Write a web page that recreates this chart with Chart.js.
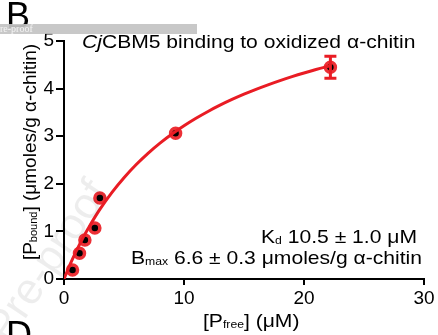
<!DOCTYPE html>
<html>
<head>
<meta charset="utf-8">
<script src="https://cdn.jsdelivr.net/npm/chart.js@4.4.1/dist/chart.umd.min.js"></script>
<style>
  html, body { margin: 0; padding: 0; background: #fff; }
  #wrap { position: relative; width: 438px; height: 335px; }
</style>
</head>
<body>
<div id="wrap"><canvas id="chart" width="438" height="335"></canvas></div>
<script>
// Binding isotherm data: free vs bound protein
const freeConc = [0.71, 1.29, 1.74, 2.57, 2.99, 9.3, 22.2];
const boundAmt = [0.19, 0.54, 0.82, 1.07, 1.70, 3.06, 4.45];
const boundErr = [0, 0, 0, 0, 0, 0, 0.23];

// One-site fit parameters (shown in the annotation)
const KD = 10.5;
const BMAX = 6.6;
const fitX = [0, 0.5, 1, 1.5, 2, 3, 4, 5, 6, 7, 8, 9, 10, 11, 12, 13, 14, 15, 16, 17, 18, 19, 20, 21, 22.2];

const xTicks = [0, 10, 20, 30];
const yTicks = [0, 1, 2, 3, 4, 5];

const RED = 'rgb(233, 28, 36)';
const RING = 'rgb(236, 48, 54)';
const FONT = '"Liberation Sans", Arial, sans-serif';
const SX = 1.11; // horizontal stretch of the annotation text

const fitPoints = fitX.map(x => ({ x: x, y: BMAX * x / (KD + x) }));
const dataPoints = freeConc.map((x, i) => ({ x: x, y: boundAmt[i] }));

// text made of pieces (normal / subscript / italic)
function richWidth(ctx, parts, sx) {
    let w = 0;
    parts.forEach(p => {
        ctx.font = (p.italic ? 'italic ' : '') + p.size + 'px ' + FONT;
        w += ctx.measureText(p.t).width;
    });
    return w * (sx || 1);
}

function drawRich(ctx, parts, x, y, sx) {
    ctx.save();
    ctx.translate(x, y);
    ctx.scale(sx || 1, 1);
    let cx = 0;
    parts.forEach(p => {
        ctx.font = (p.italic ? 'italic ' : '') + p.size + 'px ' + FONT;
        ctx.fillText(p.t, cx, p.dy || 0);
        cx += ctx.measureText(p.t).width;
    });
    ctx.restore();
}

// error bars for the points that have them
const errorBars = {
    id: 'errorBars',
    afterDatasetsDraw(chart) {
        const ctx = chart.ctx;
        const xs = chart.scales.x, ys = chart.scales.y;
        ctx.save();
        ctx.strokeStyle = RED;
        ctx.lineWidth = 3;
        freeConc.forEach((x, i) => {
            if (!boundErr[i]) return;
            const px = xs.getPixelForValue(x);
            const top = ys.getPixelForValue(boundAmt[i] + boundErr[i]);
            const bot = ys.getPixelForValue(boundAmt[i] - boundErr[i]);
            ctx.beginPath();
            ctx.moveTo(px, top); ctx.lineTo(px, bot);
            ctx.moveTo(px - 6, top); ctx.lineTo(px + 6, top);
            ctx.moveTo(px - 6, bot); ctx.lineTo(px + 6, bot);
            ctx.stroke();
        });
        ctx.restore();
    }
};

// title, fit annotation, axis titles with subscripts, panel letters
const labels = {
    id: 'labels',
    afterDraw(chart) {
        const ctx = chart.ctx;
        ctx.save();
        ctx.fillStyle = '#000';
        ctx.textBaseline = 'alphabetic';
        ctx.textAlign = 'left';

        drawRich(ctx, [
            { t: 'Cj', size: 19, italic: true },
            { t: 'CBM5 binding to oxidized \u03b1-chitin', size: 19 }
        ], 82, 48, SX);

        const kd = [
            { t: 'K', size: 19 },
            { t: 'd', size: 11, dy: 1 },
            { t: ' 10.5 \u00b1 1.0 \u03bcM', size: 19 }
        ];
        drawRich(ctx, kd, 417 - richWidth(ctx, kd, SX), 243, SX);

        const bm = [
            { t: 'B', size: 19 },
            { t: 'max', size: 11, dy: 1 },
            { t: ' 6.6 \u00b1 0.3 \u03bcmoles/g \u03b1-chitin', size: 19 }
        ];
        drawRich(ctx, bm, 422 - richWidth(ctx, bm, SX), 264, SX);

        const xl = [
            { t: '[P', size: 19 },
            { t: 'free', size: 11, dy: 1 },
            { t: '] (\u03bcM)', size: 19 }
        ];
        drawRich(ctx, xl, 203, 327, SX);

        const yl = [
            { t: '[P', size: 19 },
            { t: 'bound', size: 11, dy: 1 },
            { t: '] (\u03bcmoles/g \u03b1-chitin)', size: 19 }
        ];
        ctx.save();
        ctx.translate(36, 152);
        ctx.rotate(-Math.PI / 2);
        drawRich(ctx, yl, -richWidth(ctx, yl) / 2, 0);
        ctx.restore();

        // faint diagonal watermark
        ctx.save();
        ctx.translate(8, 345);
        ctx.rotate(-0.98);
        ctx.font = '44px ' + FONT;
        ctx.fillStyle = 'rgba(0,0,0,0.07)';
        ctx.fillText('Pre-proof', 0, 0);
        ctx.restore();

        // panel letters
        ctx.fillStyle = '#000';
        ctx.font = '36px ' + FONT;
        ctx.fillText('B', 6, 28);
        ctx.fillText('D', 6, 347);

        // header strip
        ctx.fillStyle = 'rgba(195,195,195,0.92)';
        ctx.fillRect(0, 24, 197, 10);
        ctx.fillStyle = '#f4f4f4';
        ctx.font = '10px "Liberation Serif", serif';
        ctx.fillText('re-proof', 0, 32);
        ctx.restore();
    }
};

new Chart(document.getElementById('chart'), {
    type: 'scatter',
    data: {
        datasets: [
            {
                type: 'line',
                label: 'Fit',
                data: fitPoints,
                borderColor: RED,
                borderWidth: 3,
                pointRadius: 0,
                tension: 0.4,
                fill: false
            },
            {
                label: 'Binding',
                data: dataPoints,
                backgroundColor: '#000',
                borderColor: RING,
                borderWidth: 3.5,
                pointRadius: 5
            }
        ]
    },
    options: {
        responsive: false,
        animation: false,
        events: [],
        layout: {
            padding: { left: 0, right: 14, top: 41, bottom: 0 }
        },
        plugins: {
            legend: { display: false },
            tooltip: { enabled: false },
            title: { display: false }
        },
        scales: {
            x: {
                type: 'linear',
                min: 0,
                max: 30,
                afterBuildTicks: s => { s.ticks = xTicks.map(v => ({ value: v })); },
                afterFit: s => { s.height = 56; },
                border: { display: true, color: '#000', width: 2 },
                grid: { drawOnChartArea: false, drawTicks: true, tickLength: 6, color: '#000', lineWidth: 2 },
                ticks: { color: '#000', padding: 2, maxRotation: 0, font: { family: FONT, size: 19 } }
            },
            y: {
                type: 'linear',
                min: 0,
                max: 5,
                afterBuildTicks: s => { s.ticks = yTicks.map(v => ({ value: v })); },
                afterFit: s => { s.width = 64; },
                border: { display: true, color: '#000', width: 2 },
                grid: { drawOnChartArea: false, drawTicks: true, tickLength: 8, color: '#000', lineWidth: 2 },
                ticks: { color: '#000', padding: 2, font: { family: FONT, size: 19 } }
            }
        }
    },
    plugins: [errorBars, labels]
});
</script>
</body>
</html>
